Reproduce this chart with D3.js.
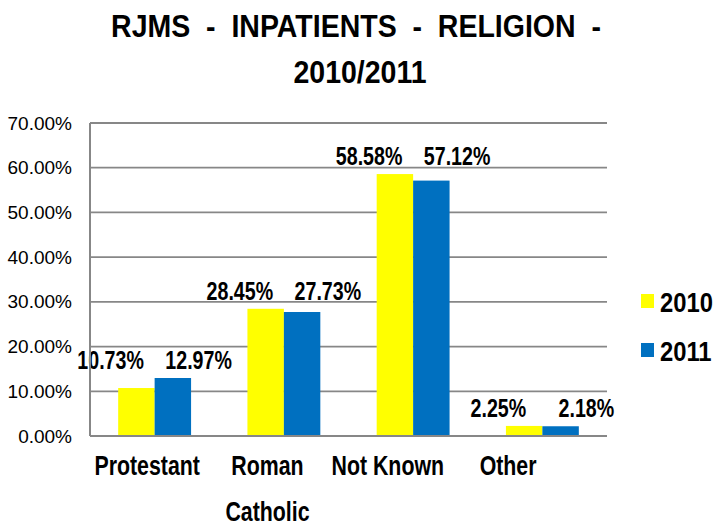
<!DOCTYPE html>
<html>
<head>
<meta charset="utf-8">
<script src="https://cdn.jsdelivr.net/npm/d3@7"></script>
<style>
  body { margin: 0; background: #fff; }
  .bold { font-family: "Liberation Sans", Arial, sans-serif; font-weight: bold; fill: #000; }
  .axis text { font-family: "Liberation Sans", Arial, sans-serif; font-size: 19px; fill: #000; }
</style>
</head>
<body>
<div class="chart"></div>
<script>
const categories = ["Protestant", "Roman Catholic", "Not Known", "Other"];
const years = ["2010", "2011"];
const values2010 = [10.73, 28.45, 58.58, 2.25];
const values2011 = [12.97, 27.73, 57.12, 2.18];
const yTicks = [0, 10, 20, 30, 40, 50, 60, 70];
const titleLines = ["RJMS  -  INPATIENTS  -  RELIGION  -", "2010/2011"];

function chart() {
    const colors = { "2010": "#ffff00", "2011": "#0070c0" };
    const data = categories.map((c, i) => ({
        cat: c,
        vals: [
            { year: "2010", v: values2010[i] },
            { year: "2011", v: values2011[i] }
        ]
    }));

    let margin = { top: 123, right: 110, bottom: 91, left: 90 },
    width = 717 - margin.left - margin.right,
    height = 527 - margin.top - margin.bottom;

    const root = d3.select(".chart")
        .append("svg")
        .attr("width", 717)
        .attr("height", 527);

    // condensed bold text: translate then squeeze horizontally
    function squeeze(sel, x, y, s) {
        sel.attr("transform", (d, i) => `translate(${typeof x === "function" ? x(d, i) : x},${typeof y === "function" ? y(d, i) : y}) scale(${s},1)`);
    }

    // title
    root.append("g")
        .selectAll("text")
        .data(titleLines)
        .enter()
        .append("text")
        .attr("class", "bold")
        .attr("text-anchor", "middle")
        .attr("font-size", 31)
        .style("white-space", "pre")
        .text(d => d)
        .call(squeeze, (d, i) => i === 0 ? 356 : 360, (d, i) => 37 + i * 46, 0.92);

    const svg = root.append("g")
        .attr("transform", `translate(${margin.left},${margin.top})`);

    const x = d3.scaleBand()
        .domain(categories)
        .range([0, width]);

    const inner = d3.scaleBand()
        .domain(years)
        .range([x.bandwidth() * 0.218, x.bandwidth() * 0.782]);

    const y = d3.scaleLinear()
        .domain([0, 70])
        .range([height, 0]);

    const yAxis = d3.axisLeft(y)
        .tickValues(yTicks)
        .tickSize(0)
        .tickPadding(18)
        .tickFormat(d => d3.format(".2f")(d) + "%");

    const yg = svg.append("g")
        .attr("class", "axis y-axis")
        .call(yAxis);
    yg.select(".domain").remove();

    // gridlines
    svg.append("g")
        .selectAll("line")
        .data(yTicks.filter(d => d > 0))
        .enter()
        .append("line")
        .attr("x1", 0)
        .attr("x2", width)
        .attr("y1", d => y(d))
        .attr("y2", d => y(d))
        .attr("stroke", "#878787")
        .attr("stroke-width", 1.8);

    // bars
    const groups = svg.selectAll(".grp")
        .data(data)
        .enter()
        .append("g")
        .attr("transform", d => `translate(${x(d.cat)},0)`);

    groups.selectAll("rect")
        .data(d => d.vals)
        .enter()
        .append("rect")
        .attr("x", d => inner(d.year))
        .attr("width", inner.bandwidth())
        .attr("y", d => y(d.v))
        .attr("height", d => height - y(d.v))
        .attr("fill", d => colors[d.year]);

    // axis lines
    svg.append("line")
        .attr("x1", 0).attr("x2", 0)
        .attr("y1", 0).attr("y2", height)
        .attr("stroke", "#878787")
        .attr("stroke-width", 2);
    svg.append("line")
        .attr("x1", 0).attr("x2", width)
        .attr("y1", height).attr("y2", height)
        .attr("stroke", "#878787")
        .attr("stroke-width", 2);

    // data labels, spread either side of the group centre
    groups.selectAll(".lbl")
        .data(d => d.vals.map(v => ({ ...v, top: d3.max(d.vals, e => e.v) })))
        .enter()
        .append("text")
        .attr("class", "bold")
        .attr("font-size", 25)
        .attr("text-anchor", "middle")
        .text(d => d3.format(".2f")(d.v) + "%")
        .call(squeeze, (d, i) => x.bandwidth() / 2 + (i === 0 ? -44 : 44), d => y(d.top) - 9, 0.785);

    // category labels
    const xl = d3.scaleBand()
        .domain(categories)
        .range([-3, width * 0.925]);

    svg.append("g")
        .selectAll("text")
        .data(categories)
        .enter()
        .append("text")
        .attr("class", "bold")
        .attr("font-size", 27)
        .attr("text-anchor", "middle")
        .call(squeeze, d => xl(d) + xl.bandwidth() / 2, height + 39, 0.79)
        .each(function(d) {
            const words = d === "Roman Catholic" ? ["Roman", "Catholic"] : [d];
            d3.select(this).selectAll("tspan")
                .data(words)
                .enter()
                .append("tspan")
                .attr("x", 0)
                .attr("dy", (w, i) => i === 0 ? 0 : 46)
                .text(w => w);
        });

    // legend
    const legend = root.append("g")
        .attr("transform", "translate(641,294)");
    const items = legend.selectAll("g")
        .data(years)
        .enter()
        .append("g")
        .attr("transform", (d, i) => `translate(0,${i * 49})`);
    items.append("rect")
        .attr("width", 13)
        .attr("height", 14)
        .attr("fill", d => colors[d]);
    items.append("text")
        .attr("class", "bold")
        .attr("font-size", 28)
        .text(d => d)
        .call(squeeze, 19, 18, 0.85);
}
chart()
</script>
</body>
</html>
